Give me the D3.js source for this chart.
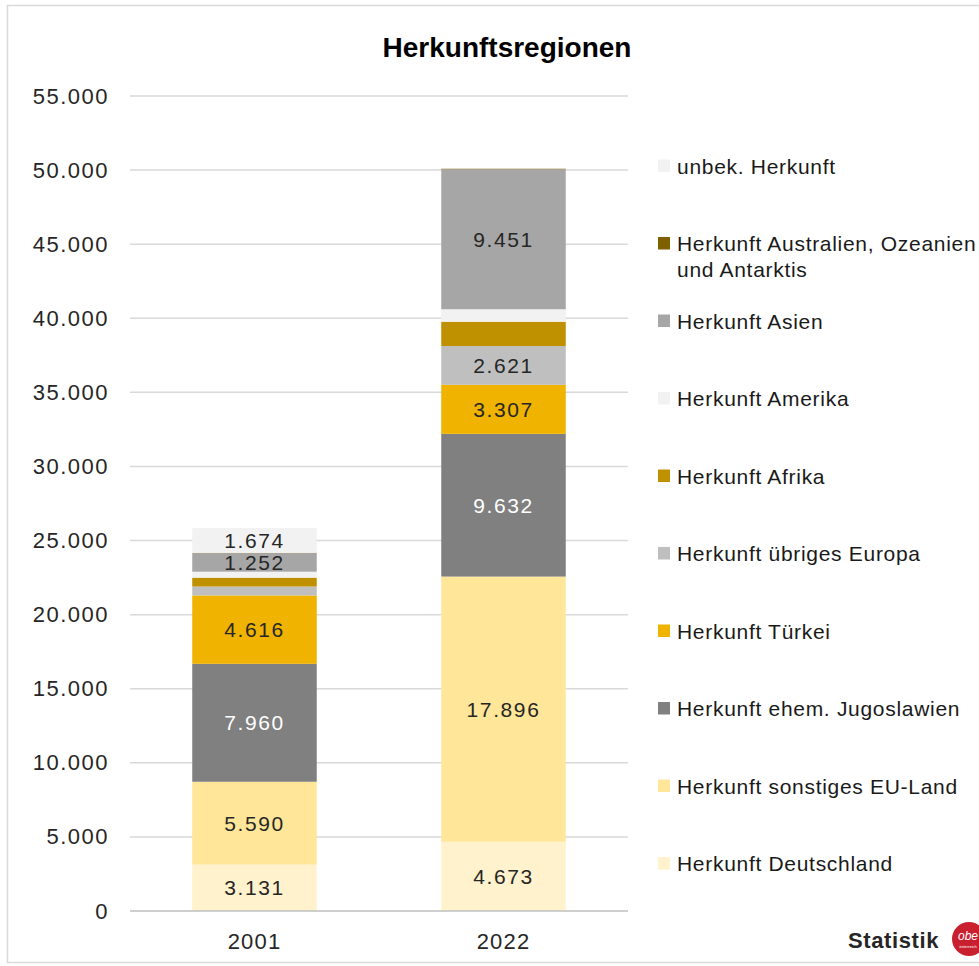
<!DOCTYPE html>
<html>
<head>
<meta charset="utf-8">
<script src="https://cdn.jsdelivr.net/npm/d3@7"></script>
<style>
  html, body { margin: 0; padding: 0; background: #ffffff; }
  svg { display: block; }
  text { font-family: "Liberation Sans", Arial, sans-serif; }
</style>
</head>
<body>
<div id="chart"></div>
<script>
// ---- data ----
const title = "Herkunftsregionen";
const years = ["2001", "2022"];
// stack order, bottom to top
const categories = [
  "Herkunft Deutschland",
  "Herkunft sonstiges EU-Land",
  "Herkunft ehem. Jugoslawien",
  "Herkunft Türkei",
  "Herkunft übriges Europa",
  "Herkunft Afrika",
  "Herkunft Amerika",
  "Herkunft Asien",
  "Herkunft Australien, Ozeanien und Antarktis",
  "unbek. Herkunft"
];
const values2001 = [3131, 5590, 7960, 4616, 600, 600, 400, 1252, 20, 1674];
const values2022 = [4673, 17896, 9632, 3307, 2621, 1640, 840, 9451, 30, 0];
const showLabel = [true, true, true, true, true, false, false, true, false, true];
const colors = ["#fff2cc", "#ffe699", "#808080", "#efb300", "#bfbfbf", "#bf9000", "#f2f2f2", "#a6a6a6", "#7f6000", "#f2f2f2"];
const labelColors = ["#262626", "#262626", "#ffffff", "#262626", "#262626", "#262626", "#262626", "#262626", "#262626", "#262626"];
const legendLines = [
  ["Herkunft Deutschland"],
  ["Herkunft sonstiges EU-Land"],
  ["Herkunft ehem. Jugoslawien"],
  ["Herkunft Türkei"],
  ["Herkunft übriges Europa"],
  ["Herkunft Afrika"],
  ["Herkunft Amerika"],
  ["Herkunft Asien"],
  ["Herkunft Australien, Ozeanien", "und Antarktis"],
  ["unbek. Herkunft"]
];
const yTicks = [0, 5000, 10000, 15000, 20000, 25000, 30000, 35000, 40000, 45000, 50000, 55000];

// ---- build ----
const W = 979, H = 966;
const svg = d3.select("#chart").append("svg").attr("width", W).attr("height", H);

svg.append("rect").attr("x", 7.5).attr("y", 5.5).attr("width", 1000).attr("height", 957)
  .attr("fill", "#fff").attr("stroke", "#d9d9d9").attr("stroke-width", 1.5);

const de = d3.formatLocale({decimal: ",", thousands: ".", grouping: [3], currency: ["", " €"]});
const fmt = de.format(",d");

const y = d3.scaleLinear().domain([0, 55000]).range([911, 96]);
const x = d3.scaleBand().domain(years).range([130, 628]).paddingInner(0.5).paddingOuter(0.25);

svg.append("text").attr("x", 507).attr("y", 57).attr("text-anchor", "middle")
  .attr("font-size", 28).attr("font-weight", "bold").attr("fill", "#000").text(title);

// grid
const grid = svg.append("g");
grid.selectAll("line").data(yTicks.filter(d => d > 0)).join("line")
  .attr("x1", 130).attr("x2", 628)
  .attr("y1", d => y(d)).attr("y2", d => y(d))
  .attr("stroke", "#d9d9d9").attr("stroke-width", 1.5);

// y axis
const yAxis = svg.append("g").attr("transform", "translate(130,0)")
  .call(d3.axisLeft(y).tickValues(yTicks).tickFormat(fmt).tickSize(0).tickPadding(21));
yAxis.select(".domain").remove();
yAxis.selectAll("text").attr("font-size", 22).attr("fill", "#262626")
  .attr("font-family", "Liberation Sans, Arial, sans-serif").attr("letter-spacing", "1.5px");

// stack
const rows = years.map((yr, i) => {
  const vals = i === 0 ? values2001 : values2022;
  const o = {year: yr};
  categories.forEach((c, j) => o[c] = vals[j]);
  return o;
});
const series = d3.stack().keys(categories)(rows);

const segs = svg.append("g");
series.forEach((s, j) => {
  segs.selectAll(null).data(s).join("rect")
    .attr("x", d => x(d.data.year))
    .attr("width", x.bandwidth())
    .attr("y", d => y(d[1]))
    .attr("height", d => Math.max(0, y(d[0]) - y(d[1])))
    .attr("fill", colors[j]);
});
series.forEach((s, j) => {
  if (!showLabel[j]) return;
  segs.selectAll(null).data(s.filter(d => d[1] - d[0] >= 1000)).join("text")
    .attr("x", d => x(d.data.year) + x.bandwidth() / 2)
    .attr("y", d => (y(d[0]) + y(d[1])) / 2)
    .attr("dy", "0.36em")
    .attr("text-anchor", "middle")
    .attr("font-size", 21).attr("letter-spacing", "1.6px")
    .attr("fill", labelColors[j])
    .text(d => fmt(d[1] - d[0]));
});

// baseline
svg.append("line").attr("x1", 130).attr("x2", 628).attr("y1", y(0)).attr("y2", y(0))
  .attr("stroke", "#bfbfbf").attr("stroke-width", 1.5);

// x axis
const xAxis = svg.append("g").attr("transform", `translate(0,${y(0)})`)
  .call(d3.axisBottom(x).tickSize(0).tickPadding(22));
xAxis.select(".domain").remove();
xAxis.selectAll("text").attr("font-size", 22).attr("fill", "#262626")
  .attr("font-family", "Liberation Sans, Arial, sans-serif").attr("letter-spacing", "1.2px");

// legend (top to bottom = reverse stack)
const legendOrder = d3.range(categories.length).reverse();
const leg = svg.append("g");
legendOrder.forEach((j, k) => {
  const cy = 166 + k * 77.5;
  leg.append("rect").attr("x", 658).attr("y", cy - 6.5).attr("width", 12).attr("height", 12.5).attr("fill", colors[j]);
  legendLines[j].forEach((line, li) => {
    leg.append("text").attr("x", 677).attr("y", cy + 7.5 + li * 26)
      .attr("font-size", 21).attr("letter-spacing", "0.7px").attr("fill", "#1a1a1a").text(line);
  });
});

// logo
svg.append("text").attr("x", 848).attr("y", 948).attr("font-size", 22).attr("font-weight", "bold")
  .attr("letter-spacing", "0.6px").attr("fill", "#262626").text("Statistik");
svg.append("circle").attr("cx", 969).attr("cy", 939).attr("r", 17).attr("fill", "#c8202f");
svg.append("text").attr("x", 968).attr("y", 940).attr("text-anchor", "middle")
  .attr("font-size", 12).attr("font-style", "italic").attr("fill", "#fff").text("obe");
svg.append("text").attr("x", 968).attr("y", 948).attr("text-anchor", "middle")
  .attr("font-size", 4).attr("fill", "#fff").text("österreich");
</script>
</body>
</html>
